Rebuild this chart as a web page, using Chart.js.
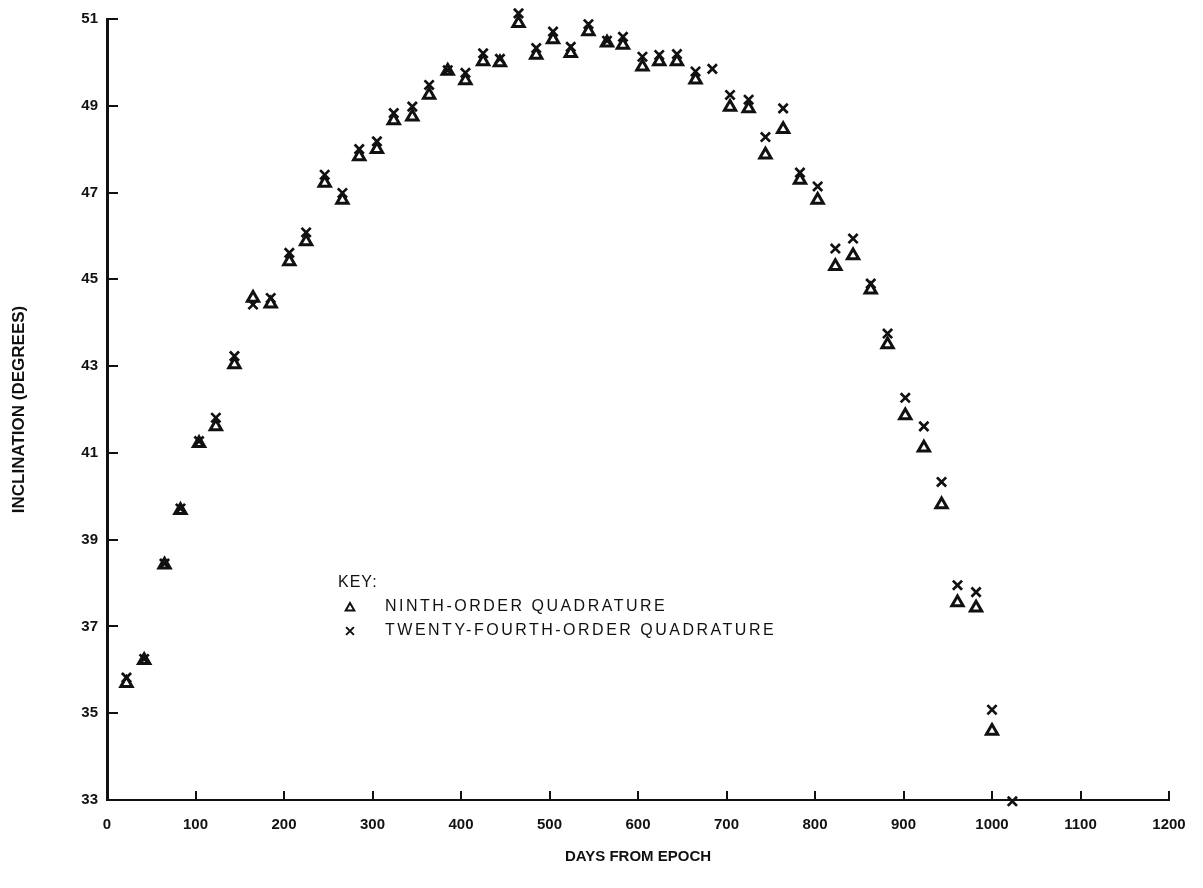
<!DOCTYPE html>
<html>
<head>
<meta charset="utf-8">
<title>Inclination vs days from epoch</title>
<script src="https://cdn.jsdelivr.net/npm/chart.js@4/dist/chart.umd.min.js"></script>
<style>
  html, body { margin: 0; padding: 0; background: #fff; }
  #wrap { width: 1203px; height: 888px; }
</style>
</head>
<body>
<div id="wrap"><canvas id="inclinationChart" width="1203" height="888"></canvas></div>
<script>
// Days from epoch for each plotted case
const days = [22, 42, 65, 83, 104, 123, 144, 165, 185, 206,
              225, 246, 266, 285, 305, 324, 345, 364, 385, 405,
              425, 444, 465, 485, 504, 524, 544, 565, 583, 605,
              624, 644, 665, 684, 704, 725, 744, 764, 783, 803,
              823, 843, 863, 882, 902, 923, 943, 961, 982, 1000, 1023];

// Inclination (degrees), ninth-order quadrature (triangles)
const ninthOrder = [35.69, 36.22, 38.42, 39.68, 41.22, 41.61, 43.04, 44.57, 44.44, 45.41,
                    45.87, 47.22, 46.83, 47.83, 48.00, 48.66, 48.75, 49.25, 49.80, 49.58,
                    50.02, 50.00, 50.90, 50.17, 50.53, 50.21, 50.71, 50.45, 50.40, 49.90,
                    50.02, 50.02, 49.60, null, 48.97, 48.94, 47.87, 48.46, 47.29, 46.83,
                    45.30, 45.55, 44.76, 43.50, 41.86, 41.12, 39.81, 37.55, 37.43, 34.59, null];

// Inclination (degrees), twenty-fourth-order quadrature (crosses)
const twentyFourthOrder = [35.82, 36.25, 38.45, 39.72, 41.27, 41.81, 43.23, 44.42, 44.57, 45.61,
                           46.08, 47.41, 46.99, 48.00, 48.18, 48.83, 48.98, 49.48, 49.82, 49.76,
                           50.21, 50.08, 51.13, 50.33, 50.71, 50.36, 50.88, 50.50, 50.59, 50.13,
                           50.17, 50.19, 49.79, 49.85, 49.25, 49.14, 48.28, 48.94, 47.46, 47.14,
                           45.71, 45.94, 44.90, 43.75, 42.27, 41.61, 40.33, 37.95, 37.79, 35.08, 32.97];

// Tick labels
const xTicks = [0, 100, 200, 300, 400, 500, 600, 700, 800, 900, 1000, 1100, 1200];
const yTicks = [33, 35, 37, 39, 41, 43, 45, 47, 49, 51];

const ink = '#111';
const fontFamily = '"Liberation Sans", Arial, sans-serif';

// Build point lists for the scatter datasets, skipping missing values
function toPoints(values) {
    return days.map((d, i) => ({ x: d, y: values[i] })).filter(p => p.y !== null);
}

// Draw inward tick marks and the "KEY:" block inside the plot
const insideTicksAndKey = {
    id: 'insideTicksAndKey',
    afterDraw(chart) {
        const ctx = chart.ctx;
        const xs = chart.scales.x;
        const ys = chart.scales.y;
        ctx.save();
        ctx.strokeStyle = ink;
        ctx.lineWidth = 2;
        ctx.beginPath();
        xs.ticks.forEach(t => {
            const px = Math.round(xs.getPixelForValue(t.value));
            ctx.moveTo(px, ys.bottom);
            ctx.lineTo(px, ys.bottom - 9);
        });
        ys.ticks.forEach(t => {
            const py = Math.round(ys.getPixelForValue(t.value));
            ctx.moveTo(xs.left, py);
            ctx.lineTo(xs.left + 11, py);
        });
        ctx.stroke();

        // key
        ctx.fillStyle = ink;
        ctx.font = '16px ' + fontFamily;
        ctx.textBaseline = 'middle';
        ctx.letterSpacing = '1px';
        ctx.fillText('KEY:', 338, 583);
        ctx.letterSpacing = '2.5px';
        ctx.fillText('NINTH-ORDER QUADRATURE', 385, 607);
        ctx.fillText('TWENTY-FOURTH-ORDER QUADRATURE', 385, 631);
        ctx.letterSpacing = '0px';
        ctx.fillStyle = 'rgba(0,0,0,0)';
        Chart.helpers.drawPoint(ctx, { pointStyle: 'triangle', radius: 5, borderWidth: 2.8, rotation: 0 }, 350, 608);
        Chart.helpers.drawPoint(ctx, { pointStyle: 'crossRot', radius: 5.5, borderWidth: 2.4, rotation: 0 }, 350, 631);
        ctx.restore();
    }
};

const ctx = document.getElementById('inclinationChart').getContext('2d');

new Chart(ctx, {
    type: 'scatter',
    data: {
        datasets: [{
            label: 'NINTH-ORDER QUADRATURE',
            data: toPoints(ninthOrder),
            pointStyle: 'triangle',
            pointRadius: 6.5,
            pointBorderWidth: 3,
            borderColor: ink,
            backgroundColor: 'rgba(0,0,0,0)',
            clip: false
        }, {
            label: 'TWENTY-FOURTH-ORDER QUADRATURE',
            data: toPoints(twentyFourthOrder),
            pointStyle: 'crossRot',
            pointRadius: 6.5,
            pointBorderWidth: 2.7,
            borderColor: ink,
            backgroundColor: ink,
            clip: false
        }]
    },
    options: {
        responsive: false,
        animation: false,
        devicePixelRatio: 1,
        layout: { padding: { top: 19, right: 34, left: 0, bottom: 0 } },
        plugins: {
            legend: { display: false },
            tooltip: { enabled: false }
        },
        scales: {
            x: {
                type: 'linear',
                min: 0,
                max: 1200,
                afterBuildTicks: scale => { scale.ticks = xTicks.map(v => ({ value: v })); },
                afterFit: scale => { scale.height = 88; },
                grid: { display: false, drawTicks: false },
                border: { display: true, color: ink, width: 2 },
                ticks: {
                    color: ink,
                    font: { family: fontFamily, size: 15, weight: 'bold' },
                    padding: 16,
                    maxRotation: 0,
                    callback: v => String(v)
                },
                title: {
                    display: true,
                    text: 'DAYS FROM EPOCH',
                    color: ink,
                    font: { family: fontFamily, size: 15, weight: 'bold' },
                    padding: { top: 4, bottom: 22 }
                }
            },
            y: {
                type: 'linear',
                min: 33,
                max: 51,
                afterBuildTicks: scale => { scale.ticks = yTicks.map(v => ({ value: v })); },
                afterFit: scale => { scale.width = 107; },
                grid: { display: false, drawTicks: false },
                border: { display: true, color: ink, width: 3 },
                ticks: {
                    color: ink,
                    font: { family: fontFamily, size: 15, weight: 'bold' },
                    padding: 9,
                    callback: v => String(v)
                },
                title: {
                    display: true,
                    text: 'INCLINATION (DEGREES)',
                    color: ink,
                    font: { family: fontFamily, size: 17, weight: 'bold' },
                    padding: { top: 9, bottom: 4 }
                }
            }
        }
    },
    plugins: [insideTicksAndKey]
});
</script>
</body>
</html>
